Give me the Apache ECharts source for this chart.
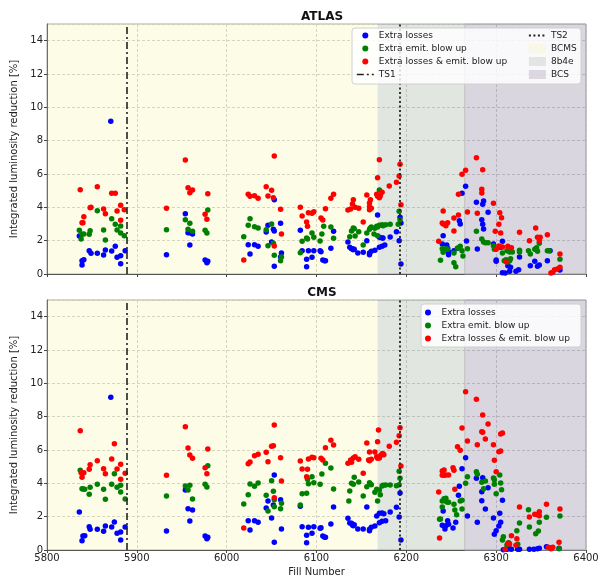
<!DOCTYPE html>
<html><head><meta charset="utf-8">
<script src="https://cdn.jsdelivr.net/npm/echarts@6/dist/echarts.min.js"></script>
<style>html,body{margin:0;padding:0;background:#fff}#c{width:603px;height:581px}</style>
</head><body><div id="c"></div>
<script>
// ---------- data ----------
const panelTitles = ['ATLAS', 'CMS'];
const seriesNames = ['Extra losses', 'Extra emit. blow up', 'Extra losses & emit. blow up'];
const xTicks = [5800, 5900, 6000, 6100, 6200, 6300, 6400];
const yTicks = [0, 2, 4, 6, 8, 10, 12, 14];
const ts1Fill = 5889;
const ts2Fill = 6193;
const periodNames = ['BCMS', '8b4e', 'BCS'];
const periodStart = [5800, 6168, 6265];
const periodEnd = [6168, 6265, 6400];

const atlasLosses = [[5871,9.16],[5836,2.28],[5847,1.40],[5849,1.24],[5856,1.24],[5841,0.86],[5839,0.80],[5839,0.54],[5863,1.14],[5865,1.44],[5872,1.38],[5876,1.66],[5878,1.00],[5882,1.10],[5882,0.62],[5887,1.40],
[5954,3.62],[5957,2.48],[5959,2.48],[5962,2.40],[5959,1.74],[5933,1.16],[5976,0.84],[5979,0.76],[5978,0.68],
[6053,4.46],[6046,2.92],[6060,3.04],[6052,2.68],[6053,2.58],[6044,2.52],[6024,1.76],[6026,1.20],[6031,1.76],[6035,1.66],[6050,1.92],[6061,1.26],[6060,1.02],[6053,0.46],
[6082,2.62],[6084,1.40],[6091,1.40],[6097,1.40],[6089,0.88],[6095,1.00],[6089,0.44],
[6104,1.40],[6105,1.34],[6107,0.84],[6109,0.80],[6110,0.80],[6116,1.54],[6119,2.56],[6135,1.92],[6137,1.60],[6139,1.52],[6140,1.52],[6141,1.46],[6142,1.48],[6146,1.26],[6152,1.30],[6159,1.26],[6159,1.16],[6161,1.36],[6165,1.42],[6156,2.00],[6170,2.20],[6173,2.16],[6174,2.16],[6168,3.54],[6170,1.60],[6173,1.66],[6176,1.74],[6182,2.22],[6189,2.54],[6192,2.00],[6193,3.40],[6194,3.06],[6194,0.60],
[6241,2.30],[6240,1.80],[6245,1.74],[6246,1.54],[6247,1.32],[6247,1.16],[6253,1.40],[6257,1.54],[6259,3.20],[6260,3.00],[6262,4.84],[6266,5.26],[6267,1.98],[6278,4.30],[6279,1.50],[6285,4.18],[6286,4.38],[6291,3.70],[6284,3.26],[6285,2.98],[6286,2.70],
[6297,1.80],[6300,0.84],[6300,0.76],[6305,1.60],[6307,1.96],[6307,0.08],[6310,0.06],[6315,0.16],[6316,0.40],[6322,0.16],[6325,0.26],[6313,0.50],[6326,1.02],[6346,0.46],[6348,0.54],[6357,0.80],[6360,1.40],[6371,0.24],[6343,0.76],[6338,0.50]];

const atlasEmit = [[5856,3.80],[5872,3.32],[5876,2.98],[5882,2.88],[5836,2.62],[5841,2.40],[5839,2.38],[5838,2.10],[5848,2.60],[5847,2.38],[5863,2.64],[5878,2.64],[5882,2.46],[5886,2.30],[5865,2.04],
[5933,2.66],[5954,3.26],[5959,3.04],[5957,2.68],[5962,2.56],[5979,3.84],[5976,2.62],[5978,2.46],
[6026,3.32],[6024,2.92],[6031,2.84],[6035,2.76],[6050,3.00],[6044,2.66],[6019,2.24],[6052,1.84],[6046,1.70],[6053,1.12],[6061,1.02],[6060,0.80],
[6089,2.16],[6095,2.46],[6084,1.96],[6097,2.20],[6082,1.28],[6090,2.10],
[6106,2.40],[6104,1.98],[6108,2.86],[6116,2.82],[6119,2.14],[6139,2.58],[6141,2.76],[6142,2.72],[6137,2.24],[6143,2.28],[6147,2.54],[6152,1.74],[6156,2.46],[6159,2.68],[6160,2.76],[6161,2.82],[6165,2.74],[6167,2.86],[6168,2.82],[6170,2.92],[6173,2.96],[6174,2.90],[6177,2.96],[6182,2.98],[6170,5.04],[6168,2.30],[6164,2.40],[6191,2.98],[6193,3.24],[6192,3.76],
[6240,1.52],[6242,1.44],[6244,1.52],[6246,1.48],[6241,1.30],[6238,0.82],[6253,0.68],[6255,0.44],[6253,1.26],[6257,1.54],[6260,1.66],[6262,1.40],[6263,1.08],[6268,1.52],[6278,2.56],[6284,2.10],[6286,1.92],[6288,1.88],[6291,1.88],
[6297,1.70],[6298,1.48],[6307,1.26],[6312,1.40],[6315,1.32],[6309,0.80],[6311,0.86],[6313,0.72],[6315,0.80],[6316,0.92],[6326,1.42],[6326,1.32],[6318,1.32],[6336,1.40],[6338,1.20],[6343,1.48],[6345,1.58],[6346,1.36],[6348,1.84],[6359,1.40],[6357,1.40],[6371,0.88]];

const atlasBoth = [[5837,5.06],[5856,5.24],[5872,4.84],[5876,4.84],[5848,3.98],[5849,4.00],[5863,3.90],[5882,4.12],[5878,3.78],[5886,3.86],[5865,3.62],[5841,3.44],[5839,3.08],[5840,3.08],[5882,3.22],
[5954,6.84],[5957,5.18],[5962,5.04],[5959,4.88],[5933,3.94],[5979,4.82],[5976,3.58],[5978,3.28],
[6053,7.08],[6044,5.24],[6050,5.02],[6024,4.78],[6026,4.66],[6031,4.70],[6035,4.54],[6046,4.68],[6052,4.58],[6060,3.88],[6061,2.40],[6019,0.84],[6053,1.68],
[6082,4.00],[6084,3.48],[6091,3.68],[6095,3.64],[6097,3.74],[6089,3.12],[6090,2.86],
[6105,3.36],[6107,3.24],[6119,4.78],[6116,4.54],[6110,3.92],[6135,3.84],[6138,3.90],[6143,4.00],[6147,3.94],[6140,4.20],[6141,4.46],[6152,3.12],[6156,4.74],[6159,3.86],[6161,3.94],[6159,4.04],[6159,4.26],[6160,4.46],[6167,4.78],[6168,4.66],[6170,4.58],[6171,4.70],[6173,4.90],[6168,5.78],[6170,6.86],[6181,5.28],[6189,5.50],[6192,5.88],[6193,6.58],[6194,4.16],
[6236,1.96],[6241,3.78],[6240,3.06],[6241,3.00],[6246,3.08],[6244,2.90],[6253,3.36],[6253,2.58],[6258,3.54],[6258,4.78],[6262,5.98],[6266,6.22],[6268,3.72],[6278,6.98],[6285,6.26],[6284,5.08],[6284,4.86],[6297,4.24],[6279,3.64],[6304,3.68],[6306,3.38],[6303,2.98],[6299,2.56],[6305,2.46],[6300,1.48],[6303,1.68],[6307,1.62],[6313,1.66],[6317,1.58],[6326,2.50],[6311,0.74],[6337,2.00],[6344,2.76],[6346,2.20],[6348,2.00],[6349,2.20],[6357,2.36],[6371,1.20],[6365,0.26],[6368,0.30],[6371,0.40],[6361,0.06],[6363,0.10]];

const cmsLosses = [[5871,9.16],[5836,2.28],[5847,1.40],[5848,1.24],[5856,1.24],[5863,1.12],[5865,1.44],[5872,1.38],[5875,1.68],[5878,1.00],[5882,1.08],[5882,0.60],[5887,1.38],[5840,0.84],[5842,0.86],[5839,0.56],
[5954,3.60],[5957,2.48],[5962,2.40],[5959,1.74],[5933,1.14],[5976,0.84],[5979,0.76],[5978,0.68],
[6053,4.50],[6060,3.02],[6046,2.94],[6044,2.52],[6052,2.70],[6050,1.92],[6024,1.76],[6031,1.76],[6035,1.66],[6026,1.20],[6061,1.26],[6053,0.46],
[6082,2.62],[6084,1.40],[6091,1.36],[6097,1.40],[6089,0.88],[6095,1.00],[6089,0.44],
[6104,1.30],[6105,1.34],[6107,0.84],[6109,0.76],[6110,0.76],[6116,1.56],[6119,2.58],[6135,1.90],[6137,1.62],[6139,1.60],[6140,1.50],[6141,1.46],[6142,1.52],[6146,1.26],[6152,1.26],[6159,1.24],[6159,1.16],[6161,1.36],[6165,1.44],[6156,2.58],[6170,2.20],[6173,2.22],[6175,2.18],[6167,2.04],[6170,1.64],[6173,1.72],[6177,1.76],[6182,2.28],[6189,2.56],[6192,1.98],[6193,3.42],[6194,0.60],
[6266,5.54],[6262,4.88],[6278,4.30],[6285,4.34],[6284,3.50],[6284,2.96],[6288,2.46],[6291,3.74],[6268,2.04],[6279,1.66],[6259,3.82],[6258,3.28],[6241,2.34],[6240,1.48],[6244,1.46],[6243,1.26],[6246,1.76],[6247,1.54],[6252,1.32],[6255,1.66],[6297,1.92],[6300,1.16],[6298,0.94],[6304,2.20],[6307,2.98],[6305,1.66],[6303,1.44],
[6308,0.02],[6311,0.04],[6312,0.04],[6315,0.08],[6317,0.04],[6324,0.04],[6326,0.04],[6337,0.04],[6342,0.04],[6346,0.08],[6348,0.10],[6356,0.20],[6362,0.14],[6370,0.10]];

const cmsEmit = [[5837,4.78],[5839,3.68],[5842,3.64],[5840,3.66],[5848,3.76],[5847,3.34],[5856,3.94],[5863,3.64],[5865,3.04],[5872,3.94],[5875,4.58],[5878,3.76],[5882,3.88],[5882,3.48],[5887,3.06],
[5954,3.84],[5957,3.60],[5959,3.88],[5962,3.06],[5933,3.24],[5976,3.94],[5979,5.06],[5978,3.78],
[6026,3.96],[6031,3.82],[6035,4.02],[6050,4.16],[6024,3.32],[6044,3.28],[6052,3.52],[6019,2.76],[6053,3.02],[6061,2.80],[6046,2.34],[6060,2.48],[6053,2.60],
[6090,4.24],[6091,3.98],[6097,4.04],[6095,4.40],[6084,3.38],[6089,3.40],[6082,2.70],
[6106,4.56],[6104,3.94],[6110,5.20],[6116,4.92],[6119,3.66],[6137,3.54],[6139,4.00],[6141,3.94],[6142,4.36],[6136,2.94],[6147,4.08],[6152,3.24],[6156,3.80],[6159,4.04],[6160,3.96],[6161,3.92],[6165,3.46],[6167,3.64],[6170,3.60],[6173,3.84],[6174,3.88],[6177,3.90],[6182,3.90],[6168,2.94],[6171,3.32],[6189,3.86],[6192,3.92],[6193,4.30],[6192,4.72],
[6238,1.86],[6237,1.84],[6240,2.94],[6242,3.08],[6244,3.10],[6240,2.58],[6245,2.88],[6247,2.86],[6254,2.40],[6256,2.12],[6253,2.74],[6260,2.94],[6262,2.98],[6262,2.46],[6266,4.00],[6268,4.40],[6278,4.70],[6279,4.54],[6284,4.06],[6288,4.14],[6286,3.68],[6297,4.32],[6298,4.22],[6298,3.94],[6304,4.50],[6305,4.02],[6306,3.62],[6300,3.38],[6308,0.80],[6307,0.60],[6312,0.30],[6314,0.44],[6323,1.16],[6324,0.34],[6326,1.62],[6336,2.42],[6337,1.38],[6344,0.98],[6347,1.14],[6348,1.66],[6356,1.96],[6371,2.04],[6370,0.08]];

const cmsBoth = [[5837,7.16],[5875,6.38],[5856,5.36],[5872,5.46],[5848,5.12],[5847,4.84],[5863,4.88],[5865,4.58],[5878,4.86],[5882,5.14],[5838,4.64],[5841,4.64],[5839,4.36],[5882,4.24],[5887,4.60],
[5954,7.40],[5957,6.12],[5959,5.70],[5962,5.50],[5979,6.06],[5976,4.94],[5978,4.58],[5933,4.48],
[6053,7.50],[6050,6.22],[6052,6.26],[6044,5.86],[6031,5.66],[6035,5.74],[6024,5.18],[6026,5.28],[6046,5.30],[6060,5.54],[6061,4.14],[6053,3.14],[6019,1.32],
[6082,5.34],[6091,5.46],[6095,5.56],[6097,5.54],[6084,4.86],[6090,4.84],[6089,4.40],
[6105,5.50],[6107,5.40],[6119,6.30],[6116,6.58],[6110,6.14],[6135,5.20],[6138,5.40],[6143,5.60],[6147,5.44],[6139,5.26],[6141,5.52],[6152,4.60],[6156,6.42],[6159,5.36],[6161,5.44],[6158,5.40],[6159,5.88],[6165,5.88],[6168,6.50],[6169,7.20],[6167,5.60],[6168,5.50],[6170,5.52],[6171,5.66],[6173,5.78],[6174,5.78],[6175,5.72],[6181,6.22],[6189,6.46],[6192,6.86],[6193,7.34],[6194,5.04],
[6236,3.48],[6237,0.72],[6240,4.74],[6242,4.80],[6240,4.48],[6242,4.48],[6244,4.50],[6247,4.50],[6252,4.94],[6253,4.78],[6254,3.64],[6257,6.20],[6260,5.98],[6262,7.32],[6266,9.50],[6268,6.54],[6278,9.04],[6285,8.10],[6291,7.56],[6284,7.10],[6285,7.06],[6279,6.32],[6288,6.66],[6297,6.32],[6298,5.38],[6303,5.90],[6305,5.94],[6307,7.02],[6305,6.96],[6300,4.70],[6326,2.58],[6337,1.98],[6343,2.14],[6346,2.12],[6348,2.06],[6348,2.30],[6356,2.74],[6371,2.46],[6310,0.04],[6313,0.40],[6315,0.36],[6317,0.86],[6323,0.68],[6322,0.28],[6358,0.16],[6361,0.08],[6363,0.16],[6370,0.46]];

// ---------- styles ----------
const FONT = 'DejaVu Sans';
const pointColors = ['#0000ff', '#008000', '#ff0000'];
const periodColors = ['rgba(245,245,120,0.18)', 'rgba(139,155,131,0.25)', 'rgba(107,91,131,0.25)'];
const panelData = [[atlasLosses, atlasEmit, atlasBoth], [cmsLosses, cmsEmit, cmsBoth]];
const gridTops = [24, 300];
const gridH = 250;

const grids = [], xAxes = [], yAxes = [], series = [], titles = [];
for (let p = 0; p < 2; p++) {
  grids.push({left: 47, right: 17, top: gridTops[p], height: gridH, show: true, borderColor: '#aaa', borderWidth: 1, backgroundColor: 'transparent'});
  xAxes.push({
    type: 'value', gridIndex: p, min: 5800, max: 6400, interval: 100,
    name: p === 1 ? 'Fill Number' : '', nameLocation: 'middle', nameGap: 17,
    nameTextStyle: {fontFamily: FONT, fontSize: 10, color: '#222'},
    axisLine: {show: true, onZero: false, lineStyle: {color: '#555', width: 1}},
    axisTick: {show: true, length: 3, lineStyle: {color: '#444'}},
    axisLabel: {show: p === 1, fontFamily: FONT, fontSize: 10, color: '#222', margin: 3,
      formatter: v => xTicks.includes(v) ? String(v) : ''},
    splitLine: {show: true, lineStyle: {color: '#c4c4c4', type: [3, 2], width: 0.8}}
  });
  yAxes.push({
    type: 'value', gridIndex: p, min: 0, max: 15, interval: 2,
    name: 'Integrated luminosity reduction [%]', nameLocation: 'middle', nameGap: 27,
    nameTextStyle: {fontFamily: FONT, fontSize: 10, color: '#222'},
    axisLine: {show: true, lineStyle: {color: '#555', width: 1}},
    axisTick: {show: true, length: 3, lineStyle: {color: '#444'}},
    axisLabel: {fontFamily: FONT, fontSize: 10, color: '#222', margin: 4, showMaxLabel: false,
      formatter: v => yTicks.includes(v) ? String(v) : ''},
    splitLine: {show: true, lineStyle: {color: '#c4c4c4', type: [3, 2], width: 0.8}}
  });
  titles.push({text: panelTitles[p], left: 317, textAlign: 'center', top: gridTops[p] - 18,
    textStyle: {fontFamily: FONT, fontSize: 12, fontWeight: 'bold', color: '#111'}});
  // shaded beam-type periods
  for (let k = 0; k < 3; k++) {
    series.push({
      type: 'scatter', name: periodNames[k], xAxisIndex: p, yAxisIndex: p, data: [], z: 1,
      itemStyle: {color: periodColors[k]},
      markArea: {silent: true, z: 1,
        itemStyle: {color: periodColors[k], borderWidth: k === 2 ? 0.8 : 0, borderColor: '#b8b8b8'},
        data: [[{xAxis: periodStart[k]}, {xAxis: periodEnd[k]}]]}
    });
  }
  // scatter points
  for (let s = 0; s < 3; s++) {
    series.push({
      type: 'scatter', name: seriesNames[s], xAxisIndex: p, yAxisIndex: p,
      data: panelData[p][s], symbolSize: 5.5, z: 3,
      itemStyle: {color: pointColors[s], opacity: 1}
    });
  }
  // technical stops
  series.push({
    type: 'line', name: 'TS1', xAxisIndex: p, yAxisIndex: p, data: [], symbol: 'none', z: 4,
    itemStyle: {color: 'rgba(0,0,0,0)'},
    lineStyle: {color: '#222', width: 1.6, type: [7, 3, 2, 3]},
    markLine: {silent: true, symbol: 'none', label: {show: false}, z: 4,
      lineStyle: {color: '#222', width: 1.6, type: [7, 3, 2, 3]},
      data: [{xAxis: ts1Fill}]}
  });
  series.push({
    type: 'line', name: 'TS2', xAxisIndex: p, yAxisIndex: p, data: [], symbol: 'none', z: 4,
    itemStyle: {color: 'rgba(0,0,0,0)'},
    lineStyle: {color: '#222', width: 1.8, type: [2, 2.5]},
    markLine: {silent: true, symbol: 'none', label: {show: false}, z: 4,
      lineStyle: {color: '#222', width: 1.8, type: [2, 2.5]},
      data: [{xAxis: ts2Fill}]}
  });
}

const legendText = {fontFamily: FONT, fontSize: 9, color: '#222', lineHeight: 13};
const option = {
  animation: false,
  backgroundColor: '#fff',
  title: titles,
  grid: grids, xAxis: xAxes, yAxis: yAxes, series: series,
  graphic: [
    {type: 'rect', z: 50, shape: {x: 352, y: 28, width: 229, height: 56, r: 3},
      style: {fill: 'rgba(255,255,255,0.82)', stroke: '#d0d0d0', lineWidth: 1}},
    {type: 'rect', z: 50, shape: {x: 421, y: 304, width: 160, height: 43, r: 3},
      style: {fill: 'rgba(255,255,255,0.82)', stroke: '#d0d0d0', lineWidth: 1}}
  ],
  legend: [
    {z: 60, orient: 'vertical', left: 356, top: 29, itemWidth: 17, itemHeight: 6, itemGap: 0, padding: 0,
      selectedMode: false, textStyle: legendText,
      data: [{name: seriesNames[0], icon: 'circle'}, {name: seriesNames[1], icon: 'circle'}, {name: seriesNames[2], icon: 'circle'},
        {name: 'TS1', itemStyle: {color: 'rgba(0,0,0,0)', opacity: 0}, lineStyle: {color: '#222', width: 1.6, type: [7, 3, 2, 3]}}]},
    {z: 60, orient: 'vertical', left: 528, top: 29, itemWidth: 17, itemHeight: 9, itemGap: 0, padding: 0,
      selectedMode: false, textStyle: legendText,
      data: [{name: 'TS2', itemStyle: {color: 'rgba(0,0,0,0)', opacity: 0}, lineStyle: {color: '#222', width: 1.8, type: [2, 2.5]}},
        {name: periodNames[0], icon: 'rect'}, {name: periodNames[1], icon: 'rect'}, {name: periodNames[2], icon: 'rect'}]},
    {z: 60, orient: 'vertical', left: 425, top: 306, itemWidth: 17, itemHeight: 6, itemGap: 0, padding: 0,
      selectedMode: false, textStyle: legendText,
      data: [{name: seriesNames[0], icon: 'circle'}, {name: seriesNames[1], icon: 'circle'}, {name: seriesNames[2], icon: 'circle'}]}
  ]
};
const chart = echarts.init(document.getElementById('c'), null, {renderer: 'canvas'});
chart.setOption(option);
</script>
</body></html>
